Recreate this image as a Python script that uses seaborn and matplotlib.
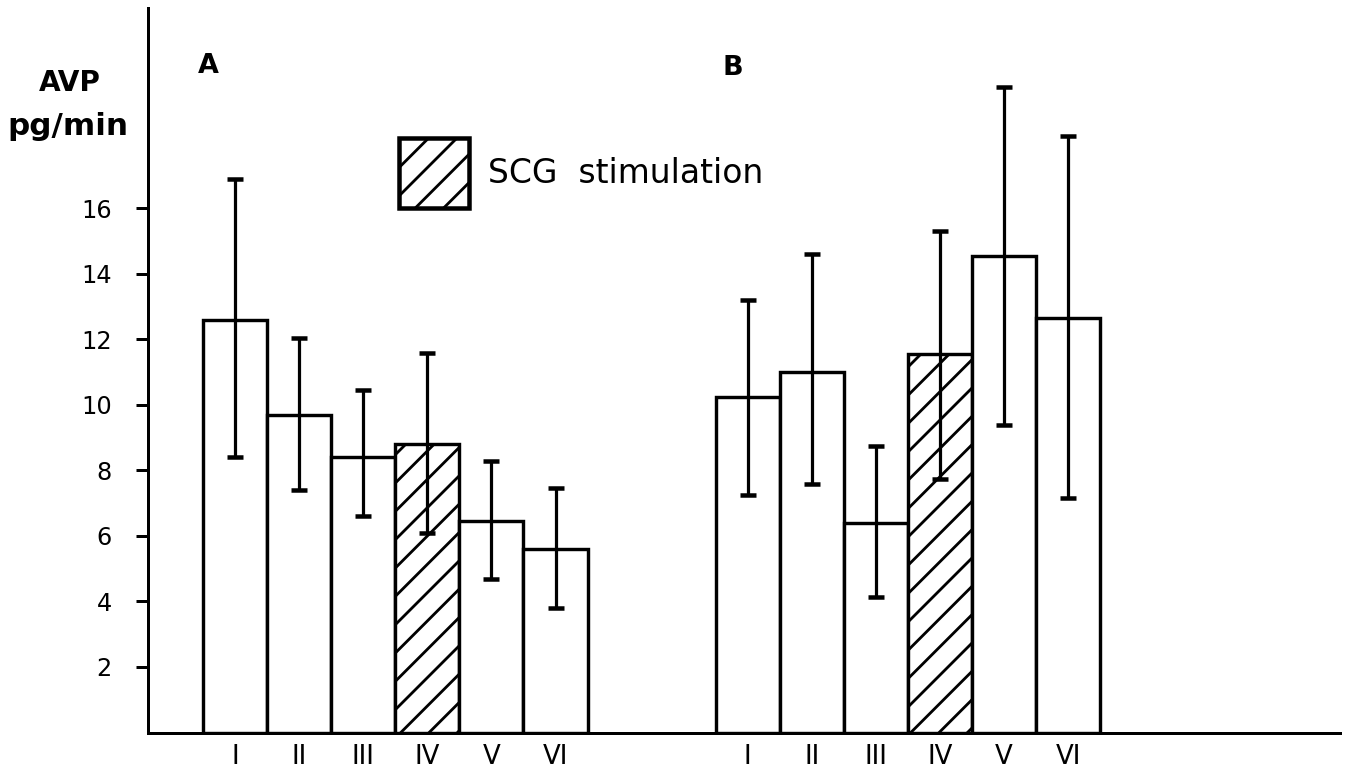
import matplotlib
matplotlib.use("Agg")
import matplotlib.pyplot as plt
from matplotlib.patches import Patch
import seaborn as sns
import pandas as pd
import numpy as np

# ---- data ----
roman = ["I", "II", "III", "IV", "V", "VI"]
a_mean = [12.6, 9.7, 8.4, 8.8, 6.45, 5.6]
a_upper = [16.9, 12.05, 10.45, 11.6, 8.3, 7.45]
a_lower = [8.4, 7.4, 6.6, 6.1, 4.7, 3.8]
b_mean = [10.25, 11.0, 6.4, 11.55, 14.55, 12.65]
b_upper = [13.2, 14.6, 8.75, 15.3, 19.7, 18.2]
b_lower = [7.25, 7.6, 4.15, 7.75, 9.4, 7.15]
stimulated = "IV"
y_ticks = [2, 4, 6, 8, 10, 12, 14, 16]

W, H, DPI = 1347, 778, 170
def px(v):
    return v * 72.0 / DPI

sns.set_theme(style="white")
plt.rcParams["font.family"] = ["DejaVu Sans"]
plt.rcParams["hatch.linewidth"] = px(2.8)
plt.rcParams["hatch.color"] = "black"
for k in ["text.color", "axes.labelcolor", "xtick.color", "ytick.color", "axes.edgecolor"]:
    plt.rcParams[k] = "black"

cats = [f"A-{r}" for r in roman] + [f"B-{r}" for r in roman]
order = [f"A-{r}" for r in roman] + ["gap1", "gap2"] + [f"B-{r}" for r in roman]
df = pd.DataFrame({
    "cat": cats,
    "val": a_mean + b_mean,
    "lower": a_lower + b_lower,
    "upper": a_upper + b_upper,
})

fig = plt.figure(figsize=(W / DPI, H / DPI), dpi=DPI)
ax = fig.add_axes([148 / W, 1 - 732.5 / H, (1340 - 148) / W, (732.5 - 8) / H])

sns.barplot(data=df, x="cat", y="val", order=order, color="white",
            saturation=1, edgecolor="black", linewidth=px(3.4), width=1.0,
            errorbar=None, ax=ax, zorder=2)

for bar in ax.patches:
    idx = int(round(bar.get_x() + bar.get_width() / 2))
    if order[idx].endswith("-" + stimulated):
        bar.set_hatch("//")

xpos = [order.index(c) for c in df["cat"]]
yerr = [df["val"] - df["lower"], df["upper"] - df["val"]]
ax.errorbar(xpos, df["val"], yerr=yerr, fmt="none", ecolor="black",
            elinewidth=px(3.2), capsize=px(8), capthick=px(4.5), zorder=3)

ax.set_xlim(-1.358, 17.24)
ax.set_ylim(0, 22.12)
ax.set_yticks(y_ticks)
ax.set_yticklabels([str(t) for t in y_ticks], fontsize=px(24))
tick_pos = [order.index(c) for c in cats]
ax.set_xticks(tick_pos)
ax.set_xticklabels(roman + roman, fontsize=px(26))
ax.tick_params(axis="y", direction="out", length=px(12), width=px(3),
               pad=px(24), colors="black", left=True)
ax.tick_params(axis="x", length=0, pad=px(12), colors="black")
ax.set_xlabel("")
ax.set_ylabel("")
for s in ["top", "right"]:
    ax.spines[s].set_visible(False)
for s in ["left", "bottom"]:
    ax.spines[s].set_linewidth(px(3))
    ax.spines[s].set_color("black")

ax.text(-0.42, 20.35, "A", fontsize=px(27), fontweight="bold", ha="center", va="center")
ax.text(7.77, 20.3, "B", fontsize=px(27), fontweight="bold", ha="center", va="center")

fig.text(70 / W, 1 - 83 / H, "AVP", fontsize=px(28), fontweight="bold", ha="center", va="center")
fig.text(68 / W, 1 - 135 / H, "pg/min", fontsize=px(31), fontweight="bold", ha="center", va="baseline")

handle = Patch(facecolor="white", edgecolor="black", hatch="//", linewidth=px(4.5))
fs = 33
ax.legend(handles=[handle], labels=["SCG  stimulation"], loc="upper left",
          bbox_to_anchor=(399 / W, 1 - 138 / H), bbox_transform=fig.transFigure,
          frameon=False, borderpad=0, borderaxespad=0, fontsize=px(fs),
          handlelength=70 / fs, handleheight=72 / fs / 0.75, handletextpad=19 / fs)

fig.savefig("out.png", dpi=DPI)
